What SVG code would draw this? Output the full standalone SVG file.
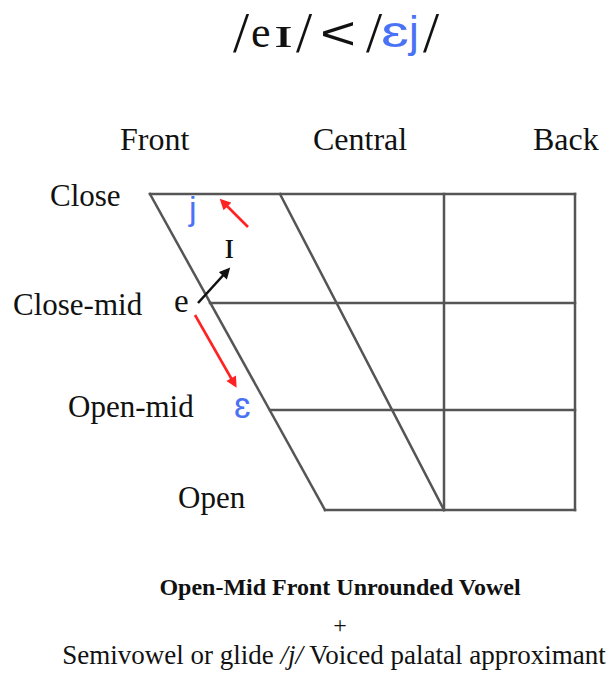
<svg xmlns="http://www.w3.org/2000/svg" width="609" height="677" viewBox="0 0 609 677">
<style>
.grid{stroke:#555;stroke-width:2.5;fill:none;stroke-linecap:square}
.lbl{font-family:"Liberation Serif","Times New Roman",serif;font-size:31px;fill:#111}
.hdr{font-size:32px}
.serif{font-family:"Liberation Serif","Times New Roman",serif;fill:#111}
.sans{font-family:"Liberation Sans",Arial,sans-serif;fill:#111}
.blue{fill:#4a72f5}
.red{stroke:#ff2222;stroke-width:2.6;fill:none}
.blk{stroke:#111;stroke-width:2.6;fill:none}
.sl{font-family:"Liberation Serif","Times New Roman",serif;font-size:58px;fill:#111}
</style>
<defs>
<marker id="ahR" viewBox="0 0 10 10" refX="7" refY="5" markerWidth="12" markerHeight="11" markerUnits="userSpaceOnUse" orient="auto"><path d="M0,0 L10,5 L0,10 z" fill="#ff2222"/></marker>
<marker id="ahK" viewBox="0 0 10 10" refX="7" refY="5" markerWidth="12" markerHeight="11" markerUnits="userSpaceOnUse" orient="auto"><path d="M0,0 L10,5 L0,10 z" fill="#111"/></marker>
</defs>
<rect width="609" height="677" fill="#fff"/>
<g id="title">
<text class="sl" x="233" y="52">/</text>
<text class="serif" font-size="44" x="251" y="47">e</text>
<text class="serif" font-size="44" x="273" y="47" textLength="21" lengthAdjust="spacingAndGlyphs">ɪ</text>
<text class="sl" x="296" y="52">/</text>
<text class="sans" font-size="46" x="320" y="49" textLength="36" lengthAdjust="spacingAndGlyphs">&lt;</text>
<text class="sl" x="366" y="52">/</text>
<text class="sans blue" font-size="44" x="381" y="47" textLength="28" lengthAdjust="spacingAndGlyphs">ɛ</text>
<text class="sans blue" font-size="44" x="409" y="47">j</text>
<text class="sl" x="423" y="52">/</text>
</g>
<g id="chart">
<line class="grid" x1="150" y1="194" x2="575" y2="194"/>
<line class="grid" x1="575" y1="194" x2="575" y2="510"/>
<line class="grid" x1="325" y1="510" x2="575" y2="510"/>
<line class="grid" x1="150" y1="194" x2="325" y2="510"/>
<line class="grid" x1="280" y1="194" x2="444" y2="510"/>
<line class="grid" x1="444" y1="194" x2="444" y2="510"/>
<line class="grid" x1="210" y1="303" x2="575" y2="303"/>
<line class="grid" x1="270" y1="410" x2="575" y2="410"/>
</g>
<g id="axis-labels">
<text class="lbl hdr" x="120" y="150">Front</text>
<text class="lbl hdr" x="313" y="150">Central</text>
<text class="lbl hdr" x="533" y="150">Back</text>
<text class="lbl" x="50" y="206">Close</text>
<text class="lbl" x="13" y="315">Close-mid</text>
<text class="lbl" x="68" y="417">Open-mid</text>
<text class="lbl" x="178" y="508">Open</text>
</g>
<g id="sym-j"><text class="sans blue" font-size="34" x="189" y="220">j</text></g>
<g id="sym-I"><text class="serif" font-size="38" x="224" y="258">ɪ</text></g>
<g id="sym-e"><text class="serif" font-size="33" x="174" y="312">e</text></g>
<g id="sym-eps"><text class="sans blue" font-size="36" x="234" y="418">ɛ</text></g>
<g id="connectors">
<line class="red" x1="248" y1="227" x2="222" y2="201" marker-end="url(#ahR)"/>
<line class="blk" x1="198" y1="303" x2="228" y2="270" marker-end="url(#ahK)"/>
<line class="red" x1="195" y1="315" x2="235" y2="385" marker-end="url(#ahR)"/>
</g>
<g id="caption">
<text class="serif" font-size="24" font-weight="bold" x="340" y="595" text-anchor="middle">Open-Mid Front Unrounded Vowel</text>
<text class="serif" font-size="24" x="340" y="633" text-anchor="middle">+</text>
<text class="serif" font-size="27" x="334" y="664" text-anchor="middle">Semivowel or glide <tspan font-style="italic">/j/</tspan> Voiced palatal approximant</text>
</g>
</svg>
